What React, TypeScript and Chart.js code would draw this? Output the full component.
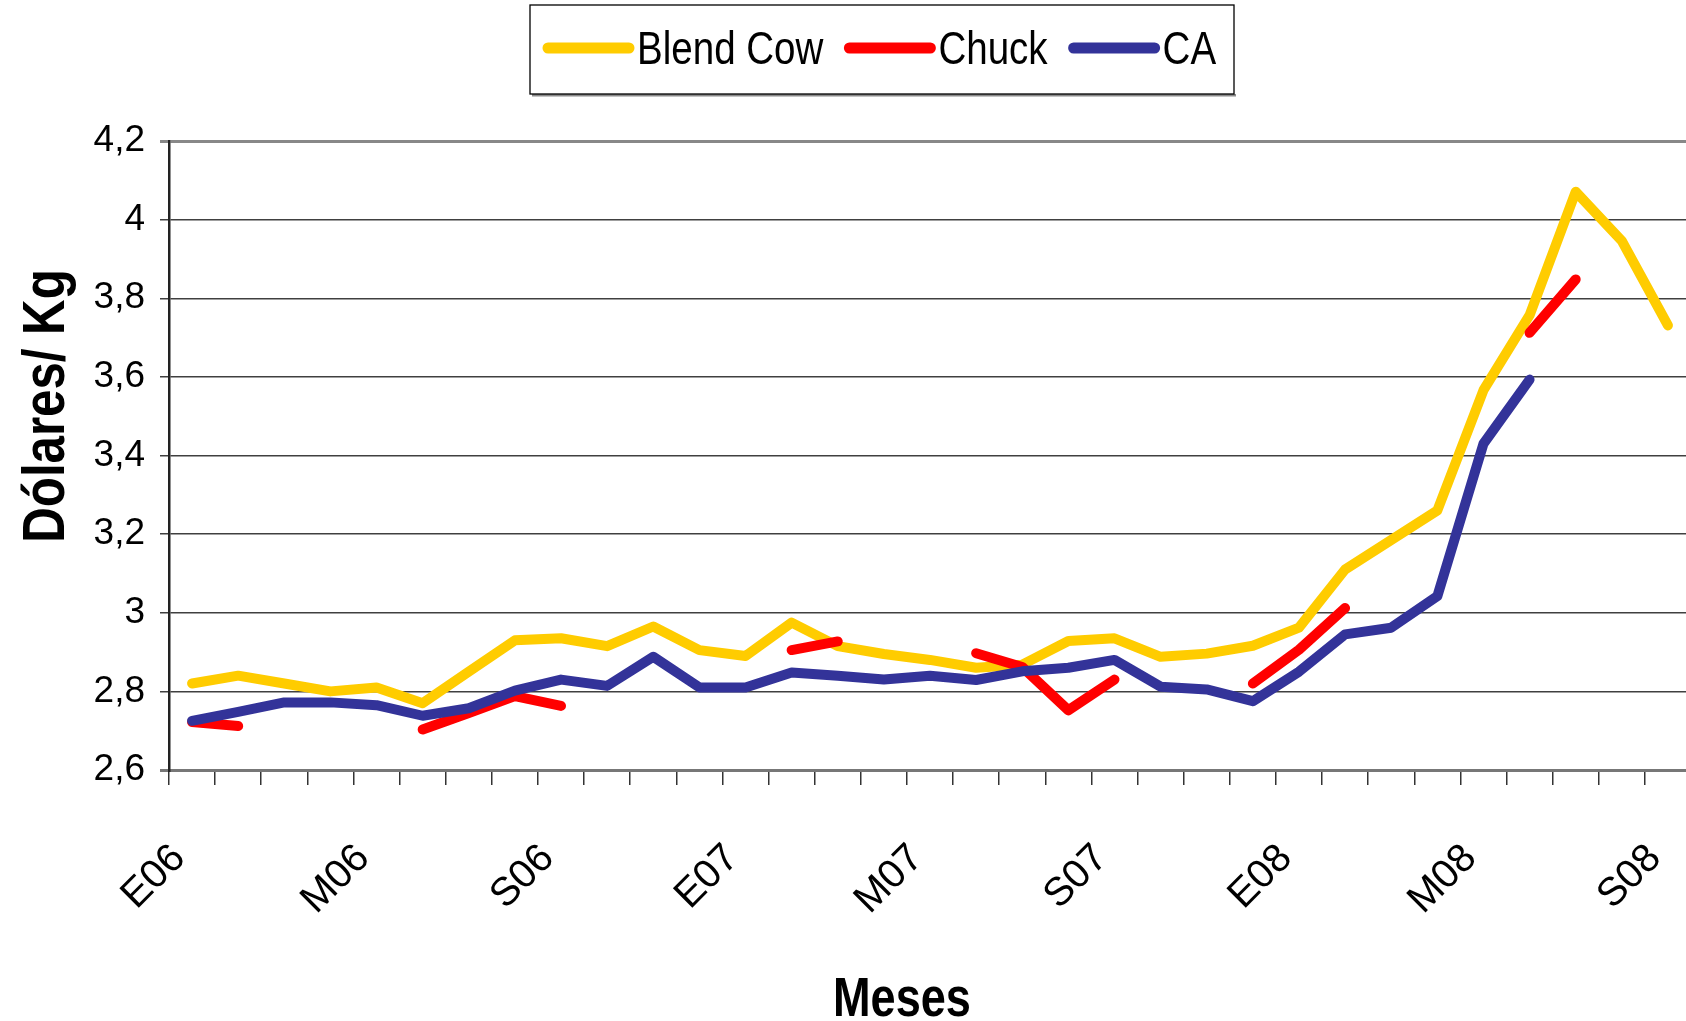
import React, { useEffect, useRef } from 'react';
import { Chart, registerables } from 'chart.js';

Chart.register(...registerables);

// ---- data ----
const monthLabels = [
  'E06', 'F06', 'M06', 'A06', 'M06', 'J06', 'J06', 'A06', 'S06', 'O06', 'N06', 'D06',
  'E07', 'F07', 'M07', 'A07', 'M07', 'J07', 'J07', 'A07', 'S07', 'O07', 'N07', 'D07',
  'E08', 'F08', 'M08', 'A08', 'M08', 'J08', 'J08', 'A08', 'S08',
];

const blendCow = [
  2.82, 2.84, 2.82, 2.8, 2.81, 2.77, 2.85, 2.93, 2.935, 2.915, 2.965, 2.905,
  2.89, 2.975, 2.915, 2.895, 2.88, 2.86, 2.868, 2.928, 2.935, 2.888, 2.896, 2.916,
  2.962, 3.11, 3.185, 3.26, 3.566, 3.757, 4.071, 3.946, 3.731,
];

const chuck = [
  2.722, 2.712, null, null, null, 2.703, 2.745, 2.788, 2.763, null, null, null,
  null, 2.905, 2.927, null, null, 2.897, 2.862, 2.752, 2.83, null, null, 2.82,
  2.906, 3.012, null, null, null, 3.712, 3.848, null, null,
];

const ca = [
  2.725, 2.748, 2.772, 2.772, 2.765, 2.738, 2.757, 2.802, 2.83, 2.814, 2.888, 2.81,
  2.81, 2.848, 2.84, 2.83, 2.84, 2.829, 2.851, 2.86, 2.88, 2.812, 2.805, 2.775,
  2.85, 2.945, 2.962, 3.042, 3.43, 3.593, null, null, null,
];

const seriesNames = ['Blend Cow', 'Chuck', 'CA'];
const seriesColors = ['#FFCC00', '#FF0000', '#333399'];
const yTitle = 'Dólares/ Kg';
const xTitle = 'Meses';
const yMin = 2.6;
const yMax = 4.2;
const yStep = 0.2;
const labelEvery = 4;

const CANVAS_W = 1700;
const CANVAS_H = 1021;

function fontAvailable(family: string): boolean {
  const c = document.createElement('canvas').getContext('2d');
  if (!c) return false;
  const sample = 'Blend Cow Dólares Meses 0123';
  c.font = '40px monospace';
  const base = c.measureText(sample).width;
  c.font = `40px "${family}", monospace`;
  return c.measureText(sample).width !== base;
}

function fmtTick(v: number): string {
  const r = Math.round(v * 10) / 10;
  return String(r).replace('.', ',');
}

export default function App() {
  const ref = useRef<HTMLCanvasElement>(null);

  useEffect(() => {
    const canvas = ref.current;
    if (!canvas) return;
    const narrow = fontAvailable('Liberation Sans Narrow');
    const condFamily = narrow ? '"Liberation Sans Narrow", "Liberation Sans", sans-serif' : '"Liberation Sans", Arial, sans-serif';
    const condScale = narrow ? 1 : 0.82;
    const tickFamily = '"Liberation Sans", Arial, sans-serif';

    const drawCond = (ctx: CanvasRenderingContext2D, text: string, x: number, y: number, font: string, align: CanvasTextAlign) => {
      ctx.save();
      ctx.font = font;
      ctx.textAlign = align;
      ctx.textBaseline = 'alphabetic';
      ctx.translate(x, y);
      ctx.scale(condScale, 1);
      ctx.fillText(text, 0, 0);
      ctx.restore();
    };
    const measureCond = (ctx: CanvasRenderingContext2D, text: string, font: string) => {
      ctx.save();
      ctx.font = font;
      const w = ctx.measureText(text).width * condScale;
      ctx.restore();
      return w;
    };

    const decorations = {
      id: 'decorations',
      afterDraw(chart: any) {
        const ctx: CanvasRenderingContext2D = chart.ctx;
        ctx.save();
        ctx.fillStyle = '#000';
        // y axis title
        ctx.save();
        ctx.translate(64, 406);
        ctx.rotate(-Math.PI / 2);
        drawCond(ctx, yTitle, 0, 0, `bold 60px ${condFamily}`, 'center');
        ctx.restore();
        // x axis title
        ctx.fillStyle = '#000';
        drawCond(ctx, xTitle, 902, 1016, `bold 55px ${condFamily}`, 'center');

        // legend box
        const boxL = 530, boxT = 5, boxR = 1234, boxB = 94;
        ctx.fillStyle = '#ffffff';
        ctx.fillRect(boxL, boxT, boxR - boxL, boxB - boxT);
        ctx.fillStyle = '#8a8a8a';
        ctx.fillRect(boxL + 2, boxB, boxR - boxL, 2.5);
        ctx.strokeStyle = '#000';
        ctx.lineWidth = 1.3;
        ctx.strokeRect(boxL, boxT, boxR - boxL, boxB - boxT);

        const legendFont = `47px ${condFamily}`;
        let x = 548;
        const sampleY = 48;
        const textY = 64;
        chart.data.datasets.forEach((ds: any) => {
          ctx.strokeStyle = ds.borderColor;
          ctx.lineWidth = 11;
          ctx.lineCap = 'round';
          ctx.beginPath();
          ctx.moveTo(x, sampleY);
          ctx.lineTo(x + 81, sampleY);
          ctx.stroke();
          x += 81 + 8;
          ctx.fillStyle = '#000';
          drawCond(ctx, ds.label, x, textY, legendFont, 'left');
          x += measureCond(ctx, ds.label, legendFont) + 26;
        });
        ctx.restore();
      },
    };

    const isTick = (v: number | undefined, target: number) => v !== undefined && Math.abs(v - target) < 1e-6;
    const common = {
      borderWidth: 10,
      pointRadius: 0,
      pointHoverRadius: 0,
      tension: 0,
      spanGaps: false,
      fill: false,
      borderCapStyle: 'round' as const,
      borderJoinStyle: 'round' as const,
    };

    const chart = new Chart(canvas, {
      type: 'line',
      data: {
        labels: monthLabels,
        datasets: [
          { label: seriesNames[0], data: blendCow, borderColor: seriesColors[0], backgroundColor: seriesColors[0], order: 3, ...common },
          { label: seriesNames[1], data: chuck, borderColor: seriesColors[1], backgroundColor: seriesColors[1], order: 2, ...common },
          { label: seriesNames[2], data: ca, borderColor: seriesColors[2], backgroundColor: seriesColors[2], order: 1, ...common },
        ],
      },
      options: {
        responsive: false,
        animation: false,
        devicePixelRatio: 1,
        events: [],
        layout: { padding: { top: 141, right: 9, left: 0, bottom: 0 } },
        plugins: {
          legend: { display: false },
          tooltip: { enabled: false },
          title: { display: false },
        },
        scales: {
          x: {
            type: 'category',
            offset: true,
            grid: {
              display: true,
              offset: true,
              drawOnChartArea: false,
              drawTicks: true,
              tickLength: 15,
              color: '#333333',
              lineWidth: 1.5,
            },
            border: { display: true, color: '#777777', width: 3 },
            ticks: {
              autoSkip: false,
              maxRotation: 45,
              minRotation: 45,
              padding: 50,
              labelOffset: -13,
              color: '#000',
              font: { family: tickFamily, size: 40 },
              callback: (_v: any, i: number) => (i % labelEvery === 0 ? monthLabels[i] : ''),
            },
            afterFit: (s: any) => {
              s.height = CANVAS_H - 770;
              s.paddingLeft = 0;
              s.paddingRight = 0;
            },
          },
          y: {
            min: yMin,
            max: yMax,
            grid: {
              drawTicks: true,
              tickLength: 9,
              color: (c: any) => (isTick(c.tick?.value, yMax) ? '#888888' : isTick(c.tick?.value, yMin) ? '#777777' : '#404040'),
              lineWidth: (c: any) => (isTick(c.tick?.value, yMax) || isTick(c.tick?.value, yMin) ? 3 : 1.5),
            },
            border: { display: true, color: '#222222', width: 2.5 },
            ticks: {
              stepSize: yStep,
              padding: 15,
              color: '#000',
              font: { family: tickFamily, size: 37 },
              callback: (v: any) => fmtTick(Number(v)),
            },
            afterFit: (s: any) => {
              s.width = 169;
              s.paddingTop = 0;
              s.paddingBottom = 0;
            },
          },
        },
      },
      plugins: [decorations],
    });

    return () => {
      chart.destroy();
    };
  }, []);

  return (
    <div
      style={{
        position: 'fixed',
        left: 0,
        top: 0,
        width: 1686,
        height: 1021,
        overflow: 'hidden',
        background: '#ffffff',
      }}
    >
      <canvas ref={ref} width={CANVAS_W} height={CANVAS_H} style={{ display: 'block', width: CANVAS_W, height: CANVAS_H }} />
    </div>
  );
}
